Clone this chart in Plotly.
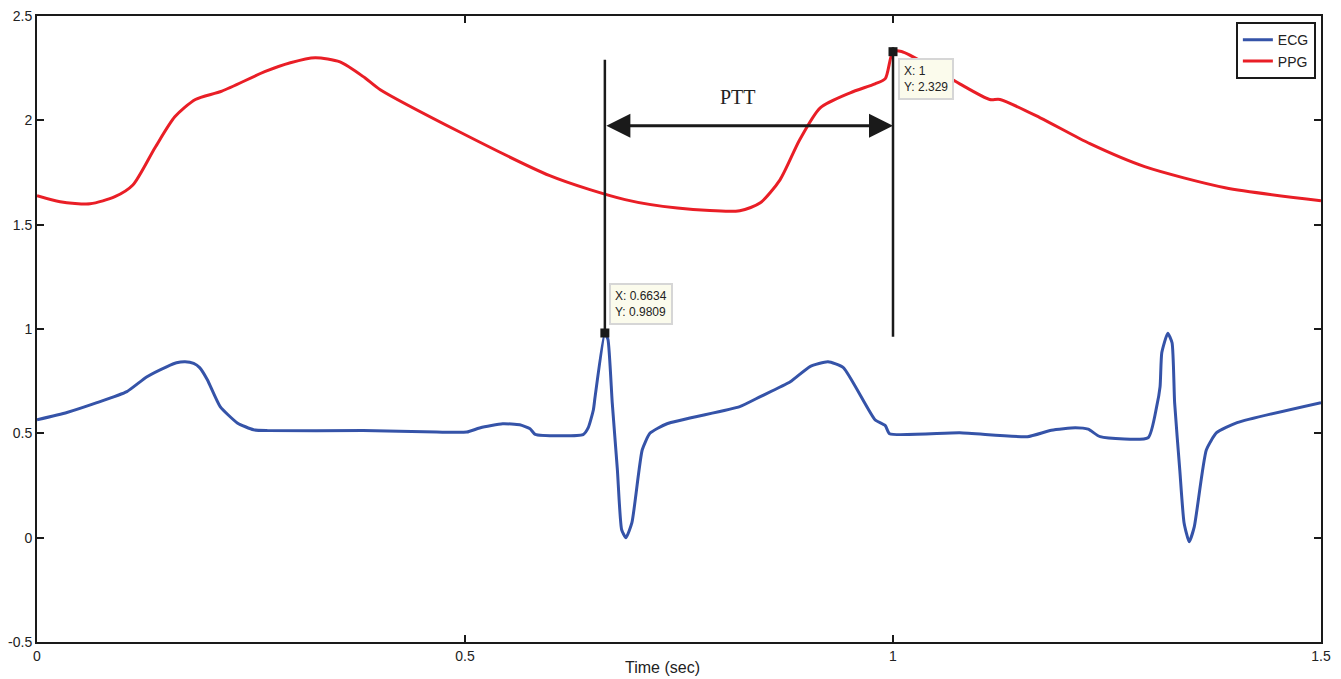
import plotly.graph_objects as go

ecg_t = [0, .035, .07, .105, .128, .152, .163, .173, .183, .19, .199, .214, .234, .253, .269, .381, .467, .502,
         .518, .544, .564, .576, .582, .638, .644, .650, .652, .6634, .667, .672, .678, .683, .688, .695, .707,
         .716, .736, .821, .845, .88, .903, .924, .942, .979, .991, .996, 1.078, 1.157, 1.185, 1.213, 1.228,
         1.242, 1.298, 1.308, 1.312, 1.314, 1.321, 1.326, 1.329, 1.335, 1.34, 1.346, 1.352, 1.366, 1.378,
         1.402, 1.5]
ecg_v = [.565, .60, .647, .70, .77, .82, .838, .843, .835, .815, .757, .628, .55, .517, .513, .513, .506, .506,
         .527, .546, .541, .522, .495, .494, .527, .613, .676, .9809, .95, .647, .326, .038, 0.0, .072, .42,
         .50, .546, .628, .676, .747, .82, .843, .815, .565, .537, .498, .503, .484, .515, .527, .52,
         .484, .479, .628, .724, .886, .98, .934, .647, .326, .072, -.02, .053, .42, .503,
         .551, .647]

ppg_t = [0, .027, .062, .091, .112, .138, .161, .185, .216, .266, .296, .325, .354, .383, .401, .599, .687,
         .748, .821, .845, .868, .891, .915, .95, .979, .991, 1.0, 1.01, 1.043, 1.078, 1.113, 1.125, 1.172,
         1.23, 1.294, 1.388, 1.5]
ppg_v = [1.639, 1.61, 1.60, 1.634, 1.69, 1.87, 2.017, 2.1, 2.14, 2.233, 2.276, 2.30, 2.28, 2.204, 2.147,
         1.735, 1.62, 1.58, 1.567, 1.605, 1.715, 1.907, 2.06, 2.132, 2.175, 2.20, 2.329, 2.33, 2.26, 2.175,
         2.10, 2.10, 2.012, 1.888, 1.778, 1.677, 1.615]

tip_x = [0.6634, 1.0]
tip_y = [0.9809, 2.329]
tip_text = ["X: 0.6634<br>Y: 0.9809", "X: 1<br>Y: 2.329"]

x_ticks = [0, 0.5, 1, 1.5]
x_labels = ["0", "0.5", "1", "1.5"]
y_ticks = [-0.5, 0, 0.5, 1, 1.5, 2, 2.5]
y_labels = ["-0.5", "0", "0.5", "1", "1.5", "2", "2.5"]

FONT = "Arial, Liberation Sans, sans-serif"

fig = go.Figure()
fig.add_trace(go.Scatter(x=ecg_t, y=ecg_v, mode="lines", name="ECG",
                         line=dict(color="#3553a8", width=3, shape="spline", smoothing=0.5)))
fig.add_trace(go.Scatter(x=ppg_t, y=ppg_v, mode="lines", name="PPG",
                         line=dict(color="#e91e26", width=3, shape="spline", smoothing=0.7)))
fig.add_trace(go.Scatter(x=tip_x, y=tip_y, mode="markers", showlegend=False,
                         marker=dict(symbol="square", size=9, color="#1a1a1a")))

# vertical marker lines
fig.add_shape(type="line", xref="x", yref="y", x0=tip_x[0], x1=tip_x[0], y0=0.98, y1=2.29,
              line=dict(color="#1a1a1a", width=2.5))
fig.add_shape(type="line", xref="x", yref="y", x0=tip_x[1], x1=tip_x[1], y0=0.963, y1=2.35,
              line=dict(color="#1a1a1a", width=2.5))

# double arrow PTT
fig.add_annotation(x=tip_x[1], y=1.974, ax=tip_x[0], ay=1.974, xref="x", yref="y", axref="x", ayref="y",
                   text="", showarrow=True, arrowhead=2, startarrowhead=2, arrowside="end+start",
                   arrowwidth=3, arrowsize=1.6, startarrowsize=1.6, arrowcolor="#1a1a1a")
fig.add_annotation(x=0.819, y=2.113, xref="x", yref="y", text="PTT", showarrow=False,
                   font=dict(family="Liberation Serif, Times New Roman, serif", size=20, color="#222"))

# data tips
fig.add_annotation(x=0.668, y=1.02, xref="x", yref="y", text=tip_text[0], showarrow=False,
                   xanchor="left", yanchor="bottom", align="left",
                   bgcolor="#fbfbec", bordercolor="#d6d6d6", borderwidth=2, borderpad=4,
                   font=dict(family=FONT, size=12, color="#222"))
fig.add_annotation(x=1.006, y=2.30, xref="x", yref="y", text=tip_text[1], showarrow=False,
                   xanchor="left", yanchor="top", align="left",
                   bgcolor="#fbfbec", bordercolor="#d6d6d6", borderwidth=2, borderpad=4,
                   font=dict(family=FONT, size=12, color="#222"))

# x-axis title
fig.add_annotation(x=0.487, y=-0.04, xref="paper", yref="paper", yanchor="middle", text="Time (sec)",
                   showarrow=False, font=dict(family=FONT, size=16, color="#222"))

axis_common = dict(showgrid=False, zeroline=False, showline=True, linecolor="#1a1a1a", linewidth=2,
                   mirror="ticks", ticks="inside", ticklen=7, tickwidth=2, tickcolor="#1a1a1a",
                   automargin=False,
                   tickfont=dict(family=FONT, size=14, color="#222"))

fig.update_layout(
    width=1341, height=679,
    margin=dict(l=37, r=20, t=16, b=37),
    paper_bgcolor="white", plot_bgcolor="white",
    xaxis=dict(range=[0, 1.5], tickvals=x_ticks, ticktext=x_labels, ticklabelstandoff=0, **axis_common),
    yaxis=dict(range=[-0.5, 2.5], tickvals=y_ticks, ticktext=y_labels, ticklabelstandoff=0, **axis_common),
    legend=dict(x=0.996, y=0.99, xanchor="right", yanchor="top", bgcolor="white",
                bordercolor="#1a1a1a", borderwidth=2, tracegroupgap=0,
                font=dict(family=FONT, size=14, color="#222")),
    showlegend=True,
)

fig.write_html("out.html", config={"displayModeBar": False},
               post_script="document.body.style.margin='0';document.body.style.overflow='hidden';")
